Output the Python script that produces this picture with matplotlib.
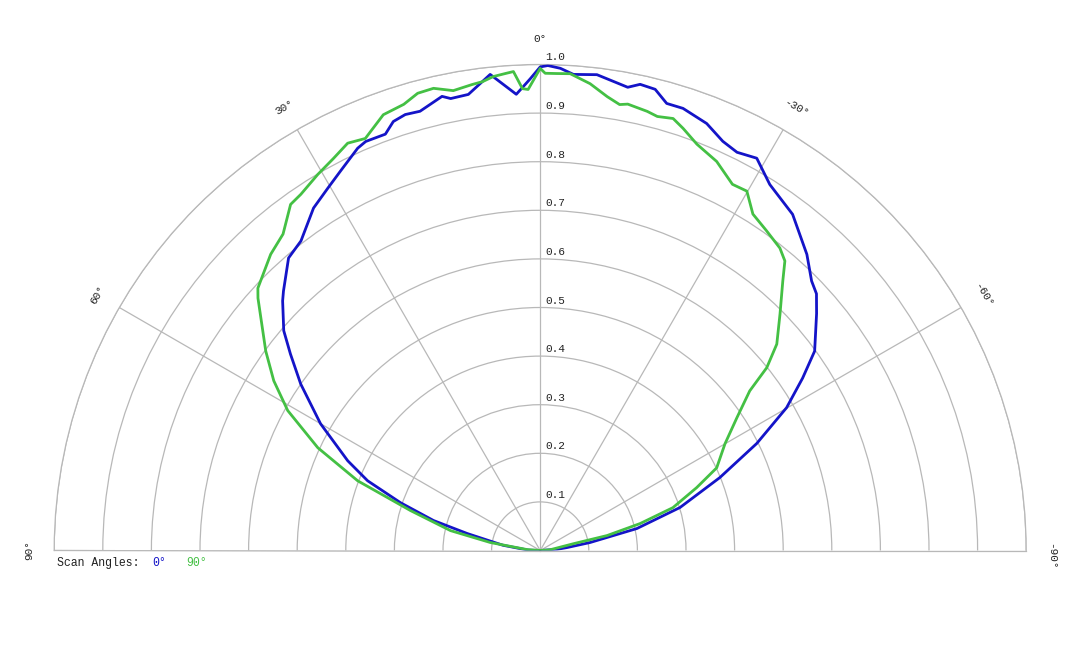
import numpy as np
import matplotlib
matplotlib.use("Agg")
import matplotlib.pyplot as plt

# ---- data (angle in degrees, relative intensity) ----
blue_angles = [-90, -86, -83.7, -80.9, -77.2, -72.9, -67.9, -63.7, -59.9, -56.7, -54.0,
               -49.4, -47.1, -45.2, -42.0, -36.9, -32.1, -28.9, -26.3, -24.05, -21.3,
               -17.9, -15.8, -14.0, -12.1, -10.7, -6.8, -4.0, -2.4, -0.9, 0.0,
               1.2, 2.1, 3.0, 6.0, 8.95, 11.2, 12.2, 15.3, 17.2, 18.9, 20.4, 23.1,
               24.4, 27.8, 30.4, 33.5, 37.7, 40.7, 44.7, 45.9, 49.4, 51.8, 55.2,
               60.0, 65.0, 68.0, 71.1, 74.3, 76.9, 82.0, 88.0, 90]
blue_values = [0.0, 0.035, 0.056, 0.104, 0.204, 0.301, 0.399, 0.497, 0.586, 0.646, 0.698,
               0.749, 0.776, 0.787, 0.820, 0.865, 0.889, 0.922, 0.914, 0.922, 0.943,
               0.956, 0.956, 0.978, 0.981, 0.970, 0.986, 0.982, 0.993, 0.998, 0.995,
               0.971, 0.955, 0.940, 0.985, 0.950, 0.948, 0.956, 0.937, 0.939, 0.933,
               0.914, 0.915, 0.909, 0.882, 0.864, 0.845, 0.805, 0.794, 0.751, 0.738,
               0.695, 0.654, 0.600, 0.522, 0.437, 0.383, 0.304, 0.228, 0.154, 0.077,
               0.025, 0.0]

green_angles = [-90, -86, -78.5, -77.4, -74.9, -72.1, -68.1, -64.9, -60.0, -56.0, -52.7,
                -51.1, -48.9, -45.4, -42.0, -40.2, -38.4, -35.3, -32.3, -29.9, -27.7,
                -24.4, -21.1, -18.7, -17.1, -15.1, -13.7, -11.1, -10.1, -8.4, -6.1,
                -3.6, -2.0, -0.6, 0.0, 1.5, 2.2, 3.2, 4.2, 5.65, 7.0, 8.3, 10.7, 13.0,
                15.0, 17.0, 19.8, 23.0, 25.3, 27.8, 30.6, 33.9, 35.8, 39.1, 42.3, 47.1,
                48.2, 54.0, 57.5, 61.0, 65.2, 69.1, 72.9, 77.5, 80.9, 86.0, 90]
green_values = [0.0, 0.02, 0.069, 0.141, 0.213, 0.287, 0.347, 0.401, 0.439, 0.488, 0.542,
                0.599, 0.646, 0.693, 0.746, 0.780, 0.794, 0.806, 0.819, 0.853, 0.851,
                0.879, 0.896, 0.917, 0.930, 0.925, 0.930, 0.936, 0.932, 0.944, 0.966,
                0.983, 0.982, 0.982, 0.992, 0.949, 0.951, 0.987, 0.984, 0.980, 0.972,
                0.969, 0.963, 0.976, 0.974, 0.960, 0.953, 0.921, 0.927, 0.912, 0.899,
                0.883, 0.878, 0.839, 0.824, 0.793, 0.779, 0.698, 0.650, 0.594, 0.504,
                0.402, 0.279, 0.189, 0.104, 0.027, 0.0]

theta_ticks = [-90, -60, -30, 0, 30, 60, 90]
theta_labels = ["-90°", "-60°", "-30°", "0°", "30°", "60°", "90°"]
r_ticks = [0.1, 0.2, 0.3, 0.4, 0.5, 0.6, 0.7, 0.8, 0.9, 1.0]
r_labels = ["0.1", "0.2", "0.3", "0.4", "0.5", "0.6", "0.7", "0.8", "0.9", "1.0"]
series_names = ["0°", "90°"]

BLUE = "#1414c8"
GREEN = "#44c044"
GRID = "#b8b8b8"
FONT = ["Liberation Mono", "DejaVu Sans Mono"]

W, H = 1080, 648
fig = plt.figure(figsize=(W / 100, H / 100), dpi=100)
cx, cy, R = 540.2, 550.5, 486.0
# the half-disc is fitted into a square box; place the box so that the
# origin lands at (cx, cy) and radius 1 spans R pixels
wedge_mid = (H - cy) + R / 2
ax = fig.add_axes([(cx - R) / W, (wedge_mid - R) / H, 2 * R / W, 2 * R / H],
                  projection="polar")
ax.set_theta_zero_location("N")
ax.set_theta_direction(1)
ax.set_thetamin(-90)
ax.set_thetamax(90)
ax.set_ylim(0, 1)
ax.set_xticks(np.deg2rad(theta_ticks))
ax.set_xticklabels([])
ax.set_yticks(r_ticks)
ax.set_yticklabels([])
ax.tick_params(length=0)
ax.grid(True, color=GRID, lw=0.9)
for s in ax.spines.values():
    s.set_color(GRID)
    s.set_linewidth(0.9)

ax.plot(np.deg2rad(blue_angles), blue_values, color=BLUE, lw=2.0, zorder=3,
        solid_joinstyle="round")
ax.plot(np.deg2rad(green_angles), green_values, color=GREEN, lw=2.0, zorder=3,
        solid_joinstyle="round")

for th, lab in zip(theta_ticks, theta_labels):
    off = (0, -6) if th == -90 else (0, 0)
    ax.annotate(lab, xy=(np.deg2rad(th), 1.052), xytext=off, textcoords="offset pixels",
                rotation=th, ha="center", va="center", rotation_mode="anchor",
                annotation_clip=False, fontsize=8, family=FONT, color="#222222")

for r, lab in zip(r_ticks, r_labels):
    ax.annotate(lab, xy=(0, r), xytext=(5, 2), textcoords="offset pixels",
                ha="left", va="bottom", annotation_clip=False,
                fontsize=8, family=FONT, color="#222222")

fig.text(57 / W, 1 - 563 / H, "Scan Angles:", ha="left", va="center",
         fontsize=8.3, family=FONT, color="#222222")
fig.text(152 / W, 1 - 563 / H, series_names[0], ha="left", va="center",
         fontsize=8.3, family=FONT, color=BLUE)
fig.text(186 / W, 1 - 563 / H, series_names[1], ha="left", va="center",
         fontsize=8.3, family=FONT, color=GREEN)

fig.savefig("out.png", dpi=100, facecolor="white")
